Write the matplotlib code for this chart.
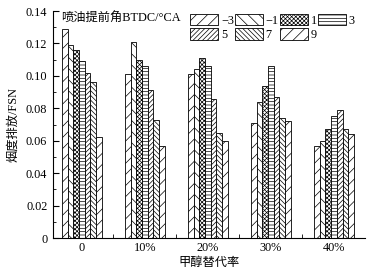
"""Smoke emission vs methanol substitution rate, grouped hatched bars."""

import matplotlib
matplotlib.use("Agg")
import matplotlib.pyplot as plt
import numpy as np
from matplotlib.ticker import MultipleLocator, FixedLocator, FuncFormatter

plt.rcParams["font.family"] = ["Liberation Serif", "Noto Sans CJK SC"]
plt.rcParams["font.size"] = 8.8
plt.rcParams["hatch.linewidth"] = 0.5

# methanol substitution rate (x categories)
categories = ["0", "10%", "20%", "30%", "40%"]

# injection advance angle series (BTDC / °CA)
series_labels = ["\u22123", "\u22121", "1", "3", "5", "7", "9"]

# smoke emission FSN, one list per advance angle, values per category
fsn_m3 = [0.129, 0.101, 0.101, 0.071, 0.057]
fsn_m1 = [0.119, 0.121, 0.104, 0.084, 0.060]
fsn_p1 = [0.116, 0.110, 0.111, 0.094, 0.067]
fsn_p3 = [0.109, 0.106, 0.106, 0.106, 0.075]
fsn_p5 = [0.102, 0.091, 0.086, 0.087, 0.079]
fsn_p7 = [0.096, 0.073, 0.065, 0.074, 0.067]
fsn_p9 = [0.0625, 0.057, 0.060, 0.072, 0.064]

series = [fsn_m3, fsn_m1, fsn_p1, fsn_p3, fsn_p5, fsn_p7, fsn_p9]
hatches = ["///", "\\\\\\", "xxxxxxxx", "-----", "///////", "\\\\\\\\\\\\\\", "///"]


def fmt_y(v, pos):
    if abs(v) < 1e-9:
        return "0"
    return f"{v:.2f}"


fig = plt.figure(figsize=(3.89, 2.69), dpi=100)
ax = fig.add_axes([0.136, 0.115, 0.802, 0.844])

x = np.arange(len(categories))
width = 0.09
n = len(series)
bars = []
for i, (vals, hatch, lab) in enumerate(zip(series, hatches, series_labels)):
    offs = (i - (n - 1) / 2) * width
    b = ax.bar(x + offs, vals, width, facecolor="white", edgecolor="black",
               linewidth=0.6, hatch=hatch, label=lab)
    bars.append(b)

ax.set_xlim(-0.46, 4.49)
ax.set_ylim(0, 0.14)

ax.yaxis.set_major_locator(MultipleLocator(0.02))
ax.yaxis.set_minor_locator(MultipleLocator(0.01))
ax.yaxis.set_major_formatter(FuncFormatter(fmt_y))
ax.set_xticks(x)
ax.set_xticklabels(categories)
ax.xaxis.set_minor_locator(FixedLocator(x[:-1] + 0.5))
ax.tick_params(axis="both", which="both", direction="in")
ax.tick_params(axis="x", which="major", length=0, pad=3)
ax.tick_params(axis="x", which="minor", length=3)
ax.tick_params(axis="y", which="major", length=4, pad=4)
ax.tick_params(axis="y", which="minor", length=2)

for side in ["top", "right"]:
    ax.spines[side].set_visible(False)
for side in ["left", "bottom"]:
    ax.spines[side].set_linewidth(0.8)

ax.set_xlabel("甲醇替代率", labelpad=2)
ax.set_ylabel("烟度排放/FSN", labelpad=5)

ax.text(0.025, 0.965, "喷油提前角BTDC/°CA", transform=ax.transAxes,
        ha="left", va="center")

# legend rows: -3 -1 1 3 / 5 7 9
order = [0, 4, 1, 5, 2, 6, 3]
ax.legend([bars[i] for i in order], [series_labels[i] for i in order],
          ncol=4, frameon=False, loc="upper left",
          bbox_to_anchor=(0.425, 1.01), handlelength=2.3, handleheight=1.1,
          handletextpad=0.2, columnspacing=0.1, labelspacing=0.1,
          borderaxespad=0.0)

fig.savefig("out.png", dpi=100)
